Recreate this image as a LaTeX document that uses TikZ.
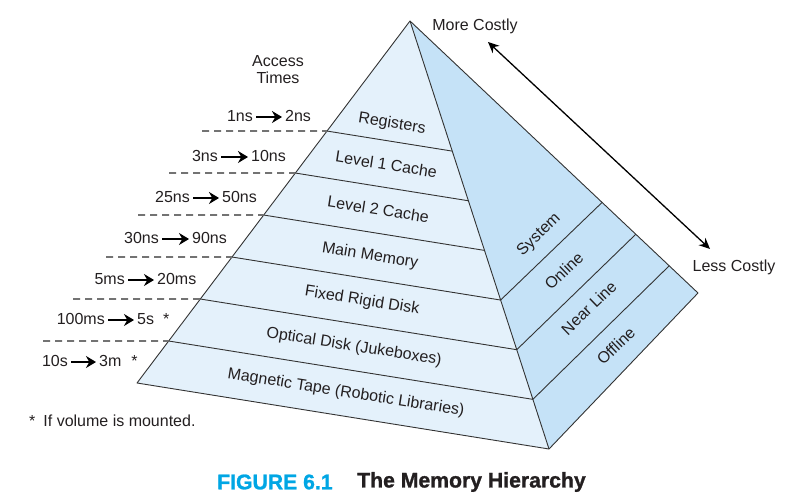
\documentclass[tikz,border=0pt]{standalone}
\usepackage{fontspec}
\setmainfont{Liberation Sans}
\newfontfamily\captfont{Liberation Sans}[BoldFeatures={FakeBold=1.2}]
\usetikzlibrary{positioning,arrows.meta,calc}

\definecolor{frontblue}{HTML}{E4F1FB}
\definecolor{sideblue}{HTML}{C5E2F7}
\definecolor{edgegray}{HTML}{333333}
\definecolor{capcyan}{HTML}{00A6E4}
\definecolor{inkdark}{HTML}{231F20}

\begin{document}
\begin{tikzpicture}[
  x=1pt, y=-1pt,
  font=\fontsize{16}{17}\selectfont, text=inkdark,
  lbl/.style={inner sep=0pt, text height=11.5pt, text depth=3.4pt},
  face/.style={draw=edgegray, line width=0.9pt, line join=round},
  level/.style={draw=edgegray, line width=0.9pt},
  lead/.style={draw=black!55, line width=1.6pt, dash pattern=on 7pt off 5pt},
  tarr/.style={-{Stealth[length=10pt,width=12pt]}, line width=2.2pt, shorten <=3pt, shorten >=3pt},
  cost/.style={{Stealth[length=11pt,width=10pt]}-{Stealth[length=11pt,width=10pt]}, line width=1.3pt},
  capt/.style={anchor=west, inner sep=0pt, font=\captfont\fontsize{21.2}{24}\selectfont\bfseries}
]
\useasboundingbox (0,0) rectangle (802,502);

% pyramid corners
\coordinate (apex) at (410,21);
\coordinate (bl) at (137,383);
\coordinate (br) at (549,449);
\coordinate (rb) at (698,293);

% level points on the left edge
\coordinate (l1) at ($(apex)!0.304!(bl)$);
\coordinate (l2) at ($(apex)!0.420!(bl)$);
\coordinate (l3) at ($(apex)!0.536!(bl)$);
\coordinate (l4) at ($(apex)!0.652!(bl)$);
\coordinate (l5) at ($(apex)!0.768!(bl)$);
\coordinate (l6) at ($(apex)!0.884!(bl)$);
% level points on the front edge
\coordinate (r1) at ($(apex)!0.304!(br)$);
\coordinate (r2) at ($(apex)!0.420!(br)$);
\coordinate (r3) at ($(apex)!0.536!(br)$);
\coordinate (r4) at ($(apex)!0.652!(br)$);
\coordinate (r5) at ($(apex)!0.768!(br)$);
\coordinate (r6) at ($(apex)!0.884!(br)$);
% points on the back edge
\coordinate (b4) at ($(apex)!0.667!(rb)$);
\coordinate (b5) at ($(apex)!0.784!(rb)$);
\coordinate (b6) at ($(apex)!0.900!(rb)$);

% faces
\fill[frontblue] (apex) -- (bl) -- (br) -- cycle;
\fill[sideblue] (apex) -- (br) -- (rb) -- cycle;

% levels
\draw[level] (l1) -- (r1);
\draw[level] (l2) -- (r2);
\draw[level] (l3) -- (r3);
\draw[level] (l4) -- (r4);
\draw[level] (l5) -- (r5);
\draw[level] (l6) -- (r6);
\draw[level] (r4) -- (b4);
\draw[level] (r5) -- (b5);
\draw[level] (r6) -- (b6);

\draw[face] (apex) -- (bl) -- (br) -- (rb) -- cycle;
\draw[face] (apex) -- (br);

% front labels
\node[lbl, rotate=-9] (reg) at (392,124) {Registers};
\node[lbl, rotate=-9] (lv1) at (386,166) {Level 1 Cache};
\node[lbl, rotate=-9] (lv2) at (378,211) {Level 2 Cache};
\node[lbl, rotate=-9] (mem) at (370,256) {Main Memory};
\node[lbl, rotate=-9] (disk) at (362,301) {Fixed Rigid Disk};
\node[lbl, rotate=-9] (opt) at (354,347) {Optical Disk (Jukeboxes)};
\node[lbl, rotate=-9] (tape) at (346,393) {Magnetic Tape (Robotic Libraries)};

% side labels
\node[lbl, rotate=44] (sys) at (539,235) {System};
\node[lbl, rotate=44] (onl) at (565,272) {Online};
\node[lbl, rotate=44] (near) at (590,309) {Near Line};
\node[lbl, rotate=44] (off) at (617,347) {Offline};

% access times
\node[align=center, inner sep=0pt] (acc) at (278,70) {Access\\Times};

\coordinate (d1) at (202,131);
\coordinate (d2) at (169,173);
\coordinate (d3) at (138,215);
\coordinate (d4) at (106,257);
\coordinate (d5) at (73,299);
\coordinate (d6) at (43,341);
\draw[lead] (d1) -- (l1);
\draw[lead] (d2) -- (l2);
\draw[lead] (d3) -- (l3);
\draw[lead] (d4) -- (l4);
\draw[lead] (d5) -- (l5);
\draw[lead] (d6) -- (l6);

\node[lbl, anchor=east] (t1a) at (253,117) {1ns};
\node[lbl, anchor=west] (t1b) at (285,117) {2ns};
\node[lbl, anchor=east] (t2a) at (218,157) {3ns};
\node[lbl, anchor=west] (t2b) at (251,157) {10ns};
\node[lbl, anchor=east] (t3a) at (190,198) {25ns};
\node[lbl, anchor=west] (t3b) at (222,198) {50ns};
\node[lbl, anchor=east] (t4a) at (159,239) {30ns};
\node[lbl, anchor=west] (t4b) at (192,239) {90ns};
\node[lbl, anchor=east] (t5a) at (125,280) {5ms};
\node[lbl, anchor=west] (t5b) at (157,280) {20ms};
\node[lbl, anchor=east] (t6a) at (105,320) {100ms};
\node[lbl, anchor=west] (t6b) at (137,320) {5s\hspace{9pt}*};
\node[lbl, anchor=east] (t7a) at (68,362) {10s};
\node[lbl, anchor=west] (t7b) at (99,362) {3m\hspace{10pt}*};
\draw[tarr] (t1a.east) -- (t1b.west);
\draw[tarr] (t2a.east) -- (t2b.west);
\draw[tarr] (t3a.east) -- (t3b.west);
\draw[tarr] (t4a.east) -- (t4b.west);
\draw[tarr] (t5a.east) -- (t5b.west);
\draw[tarr] (t6a.east) -- (t6b.west);
\draw[tarr] (t7a.east) -- (t7b.west);

% cost
\node[lbl] (more) at (475,26) {More Costly};
\node[lbl] (less) at (734,267) {Less Costly};
\coordinate (c1) at (488,42);
\coordinate (c2) at (710,249);
\draw[cost] (c1) -- (c2);

\node[lbl, anchor=west] (note) at (29,422) {*\hspace{8pt}If volume is mounted.};

% caption
\node[capt, text=capcyan] (fig) at (217,482) {FIGURE 6.1};
\node[capt] (title) at (357,482) {The Memory Hierarchy};
\end{tikzpicture}
\end{document}
